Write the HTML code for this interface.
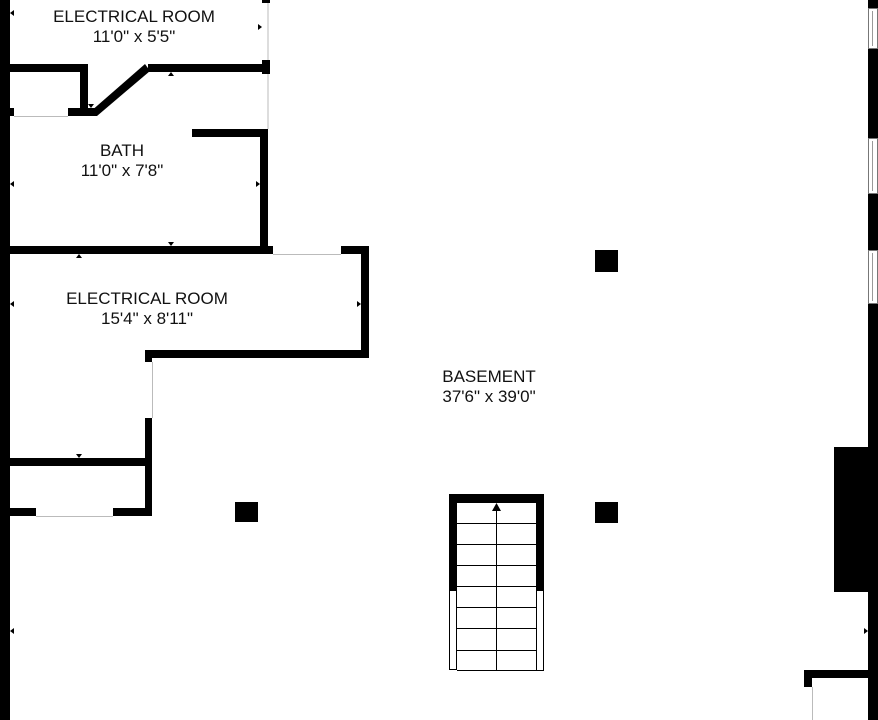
<!DOCTYPE html>
<html><head><style>html,body{margin:0;padding:0;background:#fff}svg{display:block}
text{font-family:"Liberation Sans",sans-serif;font-size:17px;fill:#111}</style></head>
<body>
<svg width="878" height="720" viewBox="0 0 878 720" xmlns="http://www.w3.org/2000/svg">
<rect width="878" height="720" fill="#fff"/>
<g fill="#000">
<rect x="0" y="0" width="10" height="720"/>
<rect x="262" y="0" width="8" height="3"/>
<rect x="10" y="64" width="78" height="8"/>
<rect x="80" y="64" width="8" height="52"/>
<rect x="68" y="108" width="29" height="8"/>
<rect x="10" y="108" width="4" height="8"/>
<polygon points="90,112 97,116 150,71 145,64"/>
<rect x="148" y="64" width="114" height="8"/>
<rect x="262" y="60" width="8" height="14"/>
<rect x="192" y="129" width="76" height="8"/>
<rect x="260" y="129" width="8" height="124"/>
<rect x="10" y="246" width="263" height="8"/>
<rect x="341" y="246" width="28" height="8"/>
<rect x="361" y="246" width="8" height="112"/>
<rect x="145" y="350" width="224" height="8"/>
<rect x="145" y="350" width="7" height="12"/>
<rect x="145" y="418" width="7" height="98"/>
<rect x="10" y="458" width="142" height="8"/>
<rect x="10" y="508" width="26" height="8"/>
<rect x="113" y="508" width="39" height="8"/>
<rect x="235" y="502" width="23" height="20"/>
<rect x="595" y="250" width="23" height="22"/>
<rect x="595" y="502" width="23" height="21"/>
<rect x="868" y="0" width="10" height="8"/>
<rect x="868" y="48" width="10" height="90"/>
<rect x="868" y="193" width="10" height="57"/>
<rect x="868" y="303" width="10" height="417"/>
<rect x="834" y="447" width="34" height="145"/>
<rect x="804" y="670" width="64" height="8"/>
<rect x="804" y="670" width="8" height="17"/>
<rect x="449" y="494" width="95" height="9"/>
<rect x="449" y="494" width="8" height="96"/>
<rect x="536" y="494" width="8" height="96"/>
</g>
<g stroke="#bbb" stroke-width="1" fill="none">
<line x1="268" y1="3" x2="268" y2="60"/>
<line x1="268" y1="74" x2="268" y2="129"/>
<line x1="14" y1="116.5" x2="68" y2="116.5"/>
<line x1="273" y1="254.5" x2="341" y2="254.5"/>
<line x1="152.5" y1="362" x2="152.5" y2="418"/>
<line x1="36" y1="516.5" x2="113" y2="516.5"/>
<line x1="812.5" y1="687" x2="812.5" y2="720"/>
</g>
<g stroke="#777" stroke-width="1" fill="#fff">
<rect x="868.5" y="8.5" width="9" height="40"/>
<rect x="868.5" y="138.5" width="9" height="55"/>
<rect x="868.5" y="250.5" width="9" height="53"/>
</g>
<g stroke="#999" stroke-width="1" fill="none">
<line x1="872.5" y1="11" x2="872.5" y2="46"/>
<line x1="872.5" y1="141" x2="872.5" y2="191"/>
<line x1="872.5" y1="253" x2="872.5" y2="301"/>
</g>
<g stroke="#000" stroke-width="1" fill="none">
<rect x="449.5" y="590.5" width="7" height="79"/>
<rect x="536.5" y="590.5" width="7" height="80"/>
<line x1="457" y1="670.5" x2="536" y2="670.5"/>
<line x1="457" y1="523.5" x2="536" y2="523.5"/>
<line x1="457" y1="544.5" x2="536" y2="544.5"/>
<line x1="457" y1="565.5" x2="536" y2="565.5"/>
<line x1="457" y1="586.5" x2="536" y2="586.5"/>
<line x1="457" y1="607.5" x2="536" y2="607.5"/>
<line x1="457" y1="628.5" x2="536" y2="628.5"/>
<line x1="457" y1="650.5" x2="536" y2="650.5"/>
<line x1="496.5" y1="508" x2="496.5" y2="670"/>
</g>
<polygon points="496.5,503 492,511 501,511" fill="#000"/>
<g fill="#000">
<polygon points="10,13 14,10 14,16"/>
<polygon points="262,27 258,24 258,30"/>
<polygon points="10,184 14,181 14,187"/>
<polygon points="260,184 256,181 256,187"/>
<polygon points="10,304 14,301 14,307"/>
<polygon points="361,304 357,301 357,307"/>
<polygon points="10,631 14,628 14,634"/>
<polygon points="868,631 864,628 864,634"/>
<polygon points="171,72 168,76 174,76"/>
<polygon points="171,246 168,242 174,242"/>
<polygon points="79,254 76,258 82,258"/>
<polygon points="79,458 76,454 82,454"/>
<polygon points="91,108 88,104 94,104"/>
</g>
<text x="134" y="22" text-anchor="middle">ELECTRICAL ROOM</text>
<text x="134" y="42" text-anchor="middle">11'0" x 5'5"</text>
<text x="122" y="156" text-anchor="middle">BATH</text>
<text x="122" y="176" text-anchor="middle">11'0" x 7'8"</text>
<text x="147" y="304" text-anchor="middle">ELECTRICAL ROOM</text>
<text x="147" y="324" text-anchor="middle">15'4" x 8'11"</text>
<text x="489" y="382" text-anchor="middle">BASEMENT</text>
<text x="489" y="402" text-anchor="middle">37'6" x 39'0"</text>
</svg>
</body></html>
